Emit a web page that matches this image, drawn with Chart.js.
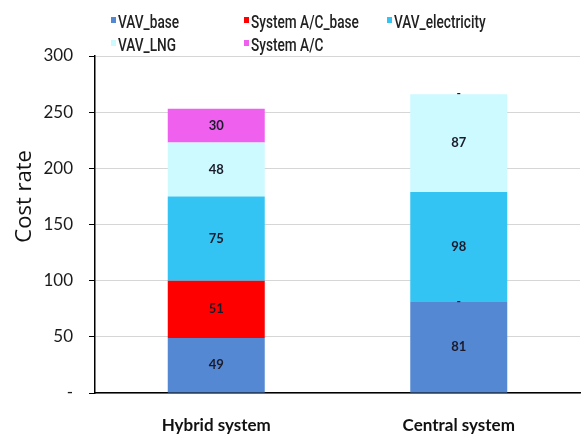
<!DOCTYPE html>
<html>
<head>
<meta charset="utf-8">
<script src="https://cdn.jsdelivr.net/npm/chart.js@4.4.1/dist/chart.umd.min.js"></script>
<style>
	body { margin: 0; background: #fff; }
	#wrap { position: relative; width: 581px; height: 436px; }
	#legend {
		position: absolute; left: 111px; top: 12px;
		display: grid; grid-template-columns: 133px 143px 120px; row-gap: 2px;
		font-family: Roboto, sans-serif; font-weight: 500;
		font-size: 17.5px; color: #222; line-height: 21px;
	}
	#legend div { white-space: nowrap; }
	#legend span.box { display: inline-block; width: 5px; height: 6px; margin-right: 2px; vertical-align: 5px; }
	#legend span.txt { display: inline-block; transform: scaleX(0.78); transform-origin: left; }
</style>
</head>
<body>
<div id="wrap">
	<canvas id="chart" width="581" height="436"></canvas>
	<div id="legend"></div>
</div>
<script>
// categories and series
const categories = ["Hybrid system", "Central system"];
const seriesNames = ["VAV_base", "System A/C_base", "VAV_electricity", "VAV_LNG", "System A/C"];
const vavBase = [49, 81];
const systemAcBase = [51, 0];
const vavElectricity = [75, 98];
const vavLng = [48, 87];
const systemAc = [30, 0];
const yTicks = [0, 50, 100, 150, 200, 250, 300];
const yTitle = "Cost rate";

const colors = ["#5588d2", "#ff0000", "#33c4f4", "#ccfaff", "#f060ee"];
const seriesValues = [vavBase, systemAcBase, vavElectricity, vavLng, systemAc];

// draws the value in the middle of each segment, "-" for zeros
const segmentLabels = {
	id: "segmentLabels",
	afterDatasetsDraw(chart) {
		const ctx = chart.ctx;
		ctx.save();
		ctx.textAlign = "center";
		ctx.textBaseline = "middle";
		ctx.fillStyle = "#1a1a2a";
		chart.data.datasets.forEach((ds, i) => {
			const meta = chart.getDatasetMeta(i);
			meta.data.forEach((bar, j) => {
				const v = ds.data[j];
				if (v === 0) {
					ctx.font = "bold 12px Lato";
					ctx.fillText("-", bar.x, bar.y - 1);
				} else {
					ctx.font = "bold 13px Lato";
					ctx.fillText(v, bar.x, (bar.y + bar.base) / 2);
				}
			});
		});
		ctx.restore();
	},
};

// y title sits a bit above the middle of the axis in the original
const yTitlePlugin = {
	id: "yTitlePlugin",
	afterDraw(chart) {
		const ctx = chart.ctx;
		const y = chart.scales.y;
		ctx.save();
		ctx.translate(25, y.getPixelForValue(175));
		ctx.rotate(-Math.PI / 2);
		ctx.textAlign = "center";
		ctx.textBaseline = "middle";
		ctx.fillStyle = "#111";
		ctx.font = "22px 'Open Sans'";
		ctx.fillText(yTitle, 0, 0);
		ctx.restore();
	},
};

const chart = new Chart(document.getElementById("chart").getContext("2d"), {
	type: "bar",
	data: {
		labels: categories,
		datasets: seriesNames.map((name, i) => ({
			label: name,
			data: seriesValues[i],
			backgroundColor: colors[i],
			borderWidth: 0,
			categoryPercentage: 1,
			barPercentage: 0.4,
		})),
	},
	options: {
		responsive: false,
		animation: false,
		layout: { padding: { top: 56, right: 1, left: 0, bottom: 0 } },
		plugins: {
			legend: { display: false },
			tooltip: { enabled: false },
		},
		scales: {
			x: {
				stacked: true,
				grid: { display: false },
				border: { color: "#000", width: 1.5 },
				afterFit: (scale) => { scale.height = 43; },
				ticks: { color: "#111", padding: 14, font: { family: "Lato", size: 17, weight: "bold" } },
			},
			y: {
				stacked: true,
				min: 0,
				max: 300,
				afterBuildTicks: (scale) => { scale.ticks = yTicks.map((v) => ({ value: v })); },
				afterFit: (scale) => { scale.width = 95; },
				grid: { color: "#d6d6d6", tickColor: "#000", tickLength: 6 },
				border: { color: "#000", width: 1.5 },
				ticks: {
					color: "#1a1a1a",
					padding: 16,
					font: { family: "Lato", size: 17 },
					callback: (v) => (v === 0 ? "-" : v),
				},
			},
		},
	},
	plugins: [segmentLabels, yTitlePlugin],
});

// two-row legend like the original
const legend = document.getElementById("legend");
chart.data.datasets.forEach((ds) => {
	const item = document.createElement("div");
	const box = document.createElement("span");
	box.className = "box";
	box.style.background = ds.backgroundColor;
	const txt = document.createElement("span");
	txt.className = "txt";
	txt.textContent = ds.label;
	item.appendChild(box);
	item.appendChild(txt);
	legend.appendChild(item);
});
</script>
</body>
</html>
